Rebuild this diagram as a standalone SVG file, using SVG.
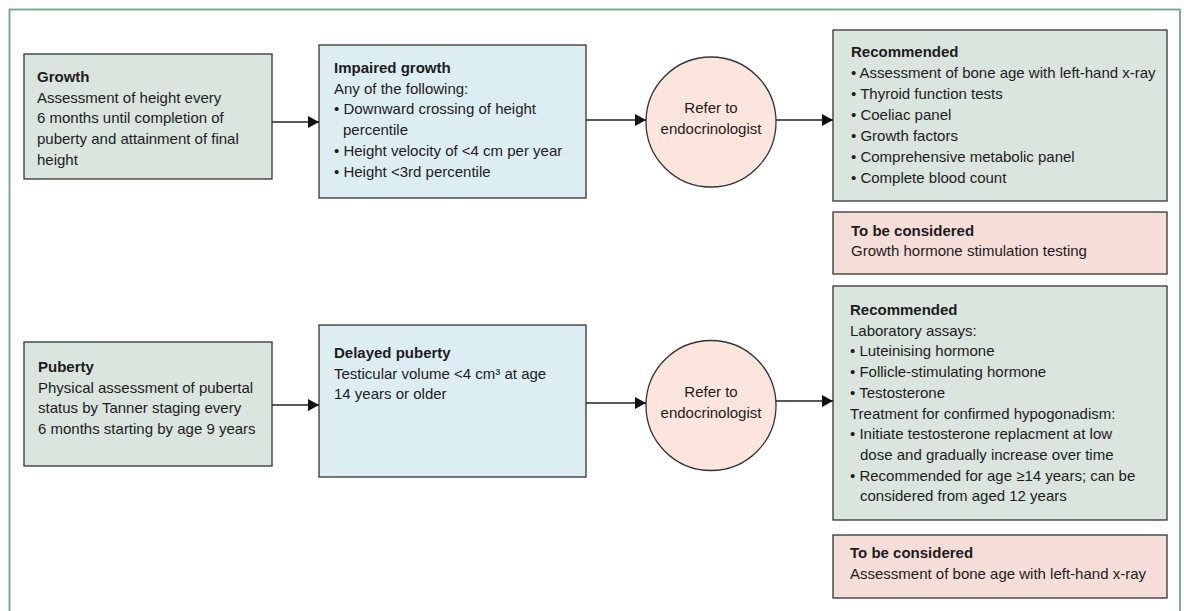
<svg xmlns="http://www.w3.org/2000/svg" width="1184" height="611" viewBox="0 0 1184 611">
<defs>
<style>
text{font-family:"Liberation Sans",Arial,sans-serif;font-size:15px;fill:#1e1c1d}
.b{font-weight:bold}
.c{text-anchor:middle}
.box{stroke:#333;stroke-width:1.3}
.green{fill:#d9e5dd}
.blue{fill:#ddeef2}
.pink{fill:#f5ddd8}
.peach{fill:#fce5dc}
.conn{stroke:#222;stroke-width:1.3;fill:none;marker-end:url(#arr)}
</style>
<marker id="arr" markerUnits="userSpaceOnUse" markerWidth="11" markerHeight="12" refX="11" refY="6" orient="auto">
<path d="M0,0 L11,6 L0,12 Z" fill="#111"/>
</marker>
</defs>
<rect width="1184" height="611" fill="#fff"/>
<rect x="9.5" y="9.5" width="1170.5" height="700" fill="none" stroke="#6aa98a" stroke-width="1.8"/>

<g id="growth">
<rect class="box green" x="24" y="54" width="248" height="125"/>
<text x="37" y="82" class="b">Growth</text>
<text x="37" y="102.7">Assessment of height every</text>
<text x="37" y="123.4">6 months until completion of</text>
<text x="37" y="144.1">puberty and attainment of final</text>
<text x="37" y="164.8">height</text>
</g>

<g id="impaired">
<rect class="box blue" x="319" y="45" width="267" height="153"/>
<text x="334" y="73" class="b">Impaired growth</text>
<text x="334" y="93.7">Any of the following:</text>
<text x="334" y="114.4">• Downward crossing of height</text>
<text x="343" y="135.1">percentile</text>
<text x="334" y="155.8">• Height velocity of &lt;4 cm per year</text>
<text x="334" y="176.5">• Height &lt;3rd percentile</text>
</g>

<g id="refer1">
<circle class="box peach" cx="711" cy="122" r="65"/>
<text x="711" y="113" class="c">Refer to</text>
<text x="711" y="134" class="c">endocrinologist</text>
</g>

<g id="rec1">
<rect class="box green" x="833" y="30" width="334" height="171"/>
<text x="851" y="57" class="b">Recommended</text>
<text x="851" y="78">• Assessment of bone age with left-hand x-ray</text>
<text x="851" y="99">• Thyroid function tests</text>
<text x="851" y="120">• Coeliac panel</text>
<text x="851" y="141">• Growth factors</text>
<text x="851" y="162">• Comprehensive metabolic panel</text>
<text x="851" y="183">• Complete blood count</text>
</g>

<g id="consider1">
<rect class="box pink" x="833" y="212" width="334" height="62"/>
<text x="851" y="236" class="b">To be considered</text>
<text x="851" y="256">Growth hormone stimulation testing</text>
</g>

<g id="puberty">
<rect class="box green" x="24" y="342" width="248" height="124"/>
<text x="38" y="372" class="b">Puberty</text>
<text x="38" y="392.7">Physical assessment of pubertal</text>
<text x="38" y="413.4">status by Tanner staging every</text>
<text x="38" y="434.1">6 months starting by age 9 years</text>
</g>

<g id="delayed">
<rect class="box blue" x="319" y="325" width="267" height="152"/>
<text x="334" y="358" class="b">Delayed puberty</text>
<text x="334" y="378.5">Testicular volume &lt;4 cm³ at age</text>
<text x="334" y="399">14 years or older</text>
</g>

<g id="refer2">
<circle class="box peach" cx="711" cy="405.5" r="65"/>
<text x="711" y="397" class="c">Refer to</text>
<text x="711" y="417.5" class="c">endocrinologist</text>
</g>

<g id="rec2">
<rect class="box green" x="833" y="286" width="334" height="234"/>
<text x="850" y="315" class="b">Recommended</text>
<text x="850" y="335.7">Laboratory assays:</text>
<text x="850" y="356.4">• Luteinising hormone</text>
<text x="850" y="377.1">• Follicle-stimulating hormone</text>
<text x="850" y="397.8">• Testosterone</text>
<text x="850" y="418.5">Treatment for confirmed hypogonadism:</text>
<text x="850" y="439.2">• Initiate testosterone replacment at low</text>
<text x="860" y="459.9">dose and gradually increase over time</text>
<text x="850" y="480.6">• Recommended for age ≥14 years; can be</text>
<text x="860" y="501.3">considered from aged 12 years</text>
</g>

<g id="consider2">
<rect class="box pink" x="833" y="535" width="334" height="63"/>
<text x="850" y="558" class="b">To be considered</text>
<text x="850" y="579">Assessment of bone age with left-hand x-ray</text>
</g>

<g id="connectors">
<line class="conn" x1="272" y1="122" x2="319" y2="122"/>
<line class="conn" x1="586" y1="120" x2="646" y2="120"/>
<line class="conn" x1="776" y1="120" x2="833" y2="120"/>
<line class="conn" x1="272" y1="405" x2="319" y2="405"/>
<line class="conn" x1="586" y1="403" x2="646" y2="403"/>
<line class="conn" x1="776" y1="401" x2="833" y2="401"/>
</g>
</svg>
